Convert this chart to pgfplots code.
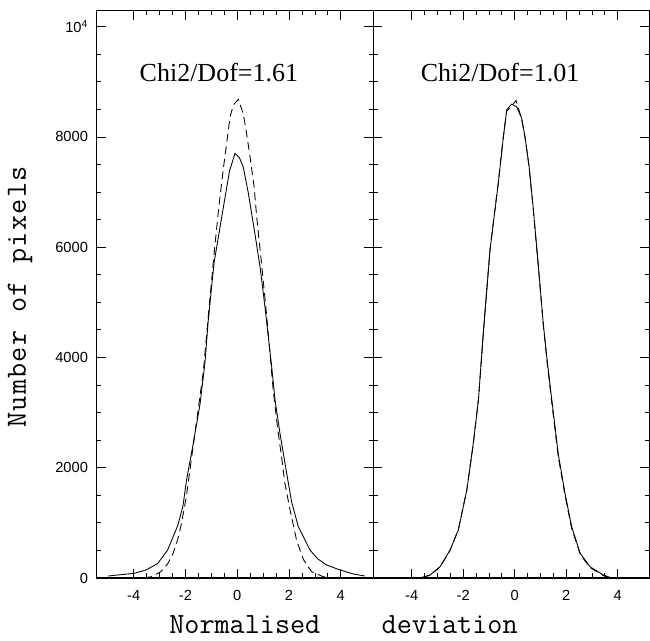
\documentclass[border=0pt]{standalone}
\usepackage{fontspec}
\setmainfont{Liberation Sans}
\newfontfamily\timesf{Liberation Serif}
\usepackage{pgfplots}
\pgfplotsset{compat=1.18}
\newcommand\lsp{\kern1pt}
\begin{document}
\begin{tikzpicture}
\path[use as bounding box] (0,0) rectangle (487.5pt,480.75pt);
\pgfplotsset{
  panel/.style={
    scale only axis,
    anchor=south west,
    height=425.5pt,
    ymin=0, ymax=10290,
    ytick={0,2000,4000,6000,8000,10000},
    minor y tick num=3,
    xtick={-4,-2,0,2,4},
    xticklabels={-4,-2,0,2,4},
    minor x tick num=3,
    major tick length=6.8pt,
    minor tick length=3.4pt,
    tick style={black, line width=0.6pt},
    axis line style={line width=0.8pt},
    ticklabel style={font=\fontsize{11}{12}\selectfont},
    xticklabel style={yshift=-6pt},
    yticklabel style={xshift=-3pt},
    scaled y ticks=false,
    clip=false,
  },
  solidc/.style={black, line width=0.65pt, no marks},
  dashc/.style={black, line width=0.65pt, no marks, dash pattern=on 6pt off 3.5pt},
}
\begin{axis}[panel, at={(72.5pt,47.25pt)}, width=207.45pt,
  xmin=-5.433, xmax=5.255,
  yticklabels={0,2000,4000,6000,8000,10\textsuperscript{4}}]
\addplot[solidc] coordinates {
(-5.0,35) (-4.5,60) (-3.98,85) (-3.53,145) (-3.08,260) (-2.69,508) (-2.3,950) (-2.1,1300)
(-1.96,1777) (-1.7,2442) (-1.44,3150) (-1.25,3893) (-1.12,4677) (-0.9,5705) (-0.6,6550)
(-0.3,7380) (-0.09,7700) (0.08,7627) (0.23,7457) (0.43,6974) (0.68,6250) (0.88,5644)
(1.07,4919) (1.33,3831) (1.46,3227) (1.65,2623) (1.91,1898) (2.1,1380) (2.36,930)
(2.49,810) (2.81,508) (3.1,350) (3.45,236) (3.97,145) (4.48,73) (4.93,36)
};
\addplot[dashc] coordinates {
(-3.6,5) (-3.3,24) (-2.95,115) (-2.7,250) (-2.5,420) (-2.3,700) (-2.15,1000) (-1.96,1500)
(-1.76,2200) (-1.57,2850) (-1.31,3750) (-1.15,4600) (-0.99,5400) (-0.86,6050) (-0.73,6650)
(-0.54,7420) (-0.41,7880) (-0.28,8360) (-0.15,8580) (0.04,8680) (0.23,8425) (0.36,8062)
(0.49,7650) (0.65,7100) (0.75,6551) (0.95,5650) (1.14,4737) (1.39,3400) (1.55,2750) (1.71,2200)
(1.84,1717) (2.04,1233) (2.29,689) (2.55,340) (2.87,115) (3.32,24) (3.6,5)
};
\node[font=\timesf\fontsize{19.5}{22}\selectfont] at (axis cs:-0.71,9174) {Chi2/Dof=1.61};
\end{axis}
\begin{axis}[panel, at={(280pt,47.25pt)}, width=206.8pt,
  xmin=-5.49, xmax=5.215, yticklabels={}]
\addplot[solidc] coordinates {
(-3.6,10) (-3.29,54) (-2.9,205) (-2.51,508) (-2.19,870) (-1.86,1595) (-1.61,2442) (-1.41,3227)
(-1.22,4450) (-0.96,5947) (-0.64,7156) (-0.44,8001) (-0.31,8497) (-0.12,8594) (0.08,8545)
(0.27,8334) (0.4,8001) (0.56,7457) (0.72,6700) (0.92,5644) (1.11,4600) (1.27,3900) (1.44,3227)
(1.69,2250) (1.95,1536) (2.21,930) (2.54,448) (2.92,205) (3.44,54) (3.7,10)
};
\addplot[dashc] coordinates {
(-3.6,8) (-3.29,50) (-2.9,200) (-2.51,500) (-2.19,880) (-1.86,1600) (-1.61,2430) (-1.41,3240)
(-1.22,4430) (-0.96,5960) (-0.64,7170) (-0.44,8020) (-0.31,8470) (-0.12,8560) (0.05,8660)
(0.12,8560) (0.27,8320) (0.4,7990) (0.56,7440) (0.72,6680) (0.92,5620) (1.11,4580) (1.27,3850)
(1.44,3170) (1.69,2200) (1.95,1500) (2.21,900) (2.54,430) (2.92,190) (3.44,45) (3.7,8)
};
\node[font=\timesf\fontsize{19.5}{22}\selectfont] at (axis cs:-0.57,9174) {Chi2/Dof=1.01};
\end{axis}
\node[font=\ttfamily\fontsize{22}{24}\selectfont] at (257.6pt,12pt) {Normalised\hspace{46pt}deviation};
\node[font=\ttfamily\fontsize{22}{24}\selectfont, rotate=90] at (15pt,258pt) {N\lsp u\lsp m\lsp b\lsp e\lsp r\lsp{} \lsp o\lsp f\lsp{} \lsp p\lsp i\lsp x\lsp e\lsp l\lsp s};
\end{tikzpicture}
\end{document}
